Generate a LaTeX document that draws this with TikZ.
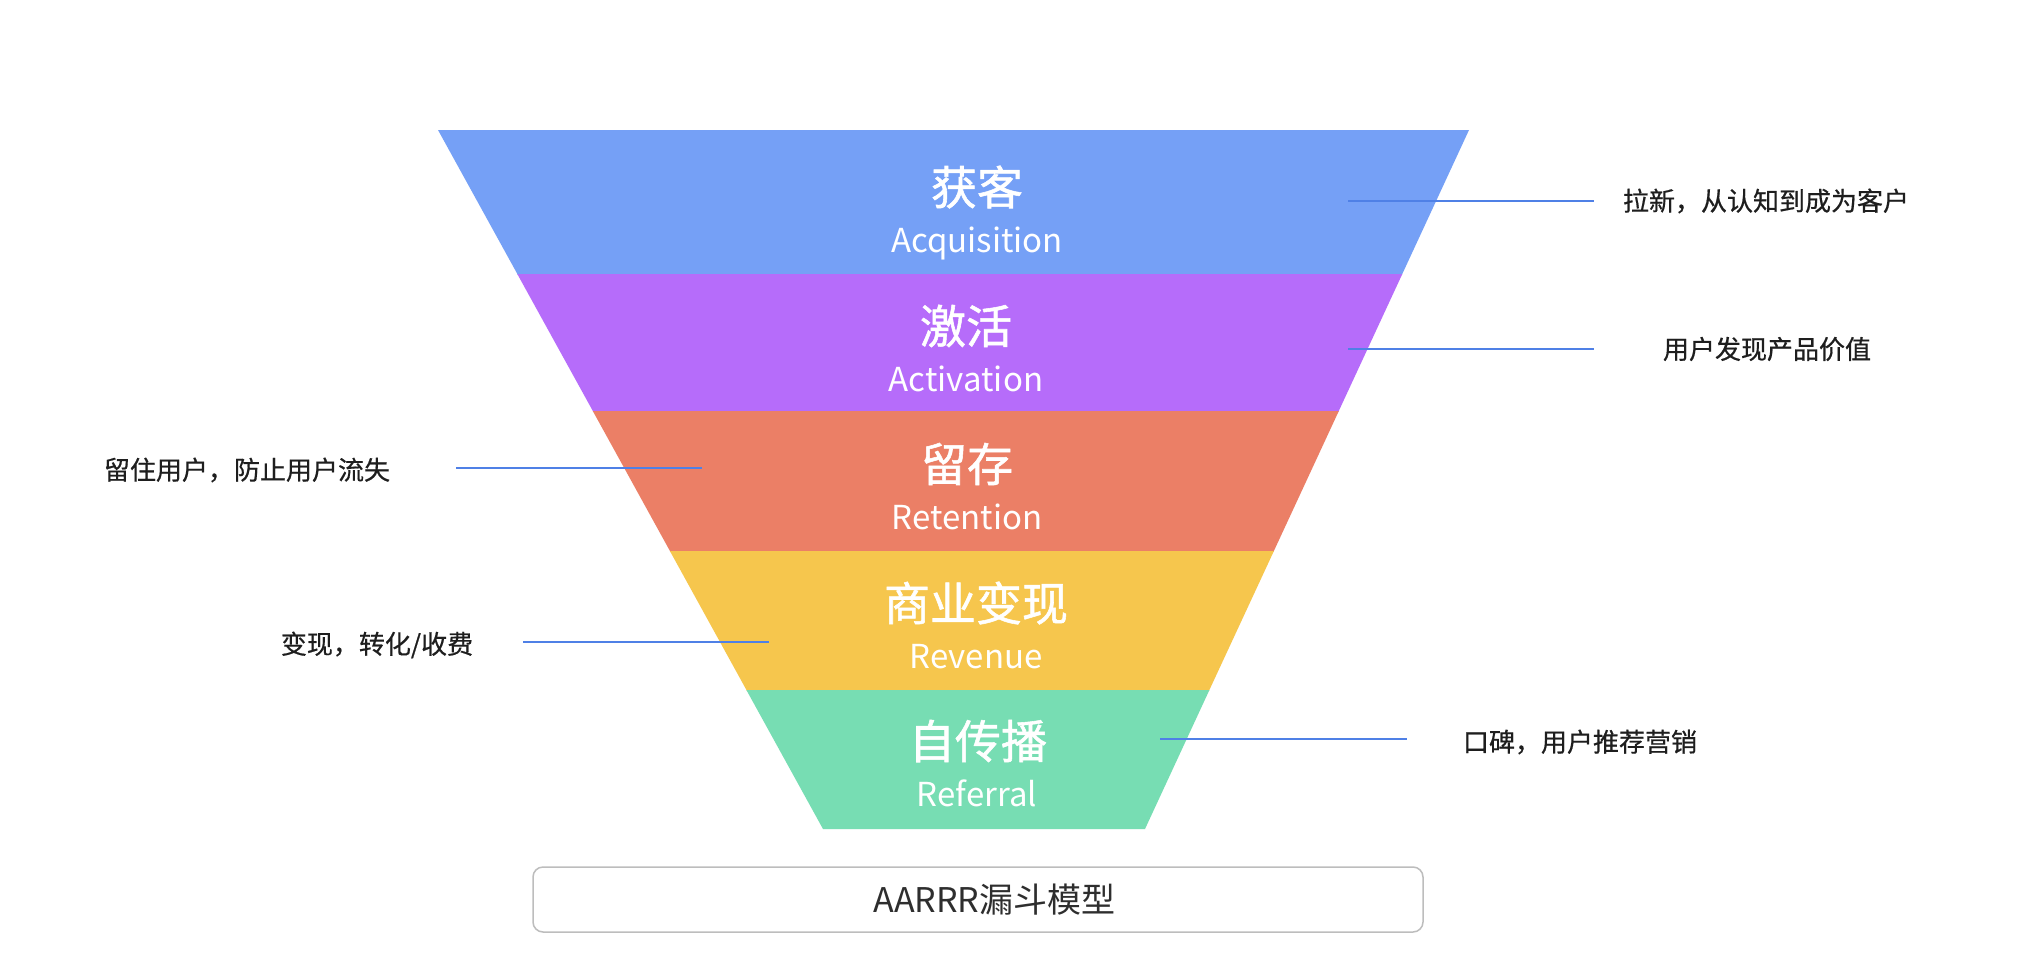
\documentclass[tikz,border=0pt]{standalone}
\usepackage{fontspec}
\setmainfont{Noto Sans CJK SC}
\newfontfamily\cjkmed[FakeBold=1.2]{Noto Sans CJK SC}
\newfontfamily\cjklab[FakeBold=0.6]{Noto Sans CJK SC}
\definecolor{cA}{HTML}{75A0F6}
\definecolor{cB}{HTML}{B66CFA}
\definecolor{cC}{HTML}{EB7F66}
\definecolor{cD}{HTML}{F6C64D}
\definecolor{cE}{HTML}{77DDB3}
\definecolor{linec}{HTML}{4F80E6}
\definecolor{labc}{HTML}{1E1E1E}
\definecolor{boxc}{HTML}{BDBDBD}
\definecolor{titc}{HTML}{2E2E2E}
\begin{document}
\begin{tikzpicture}[x=1pt,y=-1pt,
  ttl/.style={text=white, font=\cjkmed\fontsize{46}{46}\selectfont, inner sep=0pt},
  eng/.style={text=white, font=\fontsize{33}{33}\selectfont, inner sep=0pt, anchor=base},
  lab/.style={text=labc, font=\cjklab\fontsize{26}{26}\selectfont, inner sep=0pt},
  conn/.style={draw=linec, line width=2pt},
  capbox/.style={draw=boxc, line width=1.5pt, rounded corners=10pt, minimum width=890pt, minimum height=65pt, inner sep=0pt},
  captext/.style={text=titc, font=\fontsize{34}{34}\selectfont, inner sep=0pt}]
\useasboundingbox (0,0) rectangle (2022,954);
\fill[white] (0,0) rectangle (2022,954);
% funnel bands
\fill[cA] (438,130) -- (1469,130) -- (1401.8,275) -- (517.9,275) -- cycle;
\fill[cB] (517.3,274) -- (1402.3,274) -- (1338.3,412) -- (593.4,412) -- cycle;
\fill[cC] (592.8,411) -- (1338.8,411) -- (1273.4,552) -- (670.5,552) -- cycle;
\fill[cD] (669.9,551) -- (1273.9,551) -- (1208.9,691) -- (747,691) -- cycle;
\fill[cE] (746.4,690) -- (1209.4,690) -- (1145,829) -- (823,829) -- cycle;
% band titles
\node[ttl] (t1) at (977,187) {获客};
\node[eng] (e1) at (977,252) {Acquisition};
\node[ttl] (t2) at (966,326) {激活};
\node[eng] (e2) at (966,391) {Activation};
\node[ttl] (t3) at (967,464) {留存};
\node[eng] (e3) at (967,529) {Retention};
\node[ttl] (t4) at (976,603) {商业变现};
\node[eng] (e4) at (976,668) {Revenue};
\node[ttl] (t5) at (978,741) {自传播};
\node[eng] (e5) at (977,806) {Referral};
% side labels
\node[lab] (l1) at (1766,201) {拉新，从认知到成为客户};
\node[lab] (l2) at (1767,349) {用户发现产品价值};
\node[lab] (l3) at (247,470) {留住用户，防止用户流失};
\node[lab] (l4) at (377,645) {变现，转化/收费};
\node[lab] (l5) at (1580,742) {口碑，用户推荐营销};
% connectors
\coordinate (s1) at (1348,201); \coordinate (f1) at (1594,201);
\coordinate (s2) at (1348,349); \coordinate (f2) at (1594,349);
\coordinate (s3) at (702,468);  \coordinate (f3) at (456,468);
\coordinate (s4) at (769,642);  \coordinate (f4) at (523,642);
\coordinate (s5) at (1160,739); \coordinate (f5) at (1407,739);
\draw[conn] (s1) -- (f1);
\draw[conn] (s2) -- (f2);
\draw[conn] (s3) -- (f3);
\draw[conn] (s4) -- (f4);
\draw[conn] (s5) -- (f5);
% caption box
\node[capbox] (box) at (978,899.5) {};
\node[captext] (cap) at (994.5,900) {AARRR漏斗模型};
\end{tikzpicture}
\end{document}
